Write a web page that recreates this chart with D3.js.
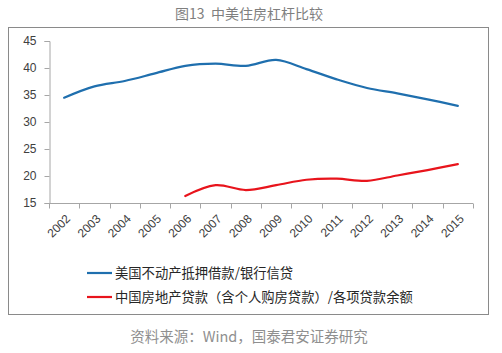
<!DOCTYPE html>
<html lang="zh">
<head>
<meta charset="UTF-8">
<title>图13 中美住房杠杆比较</title>
<script src="https://cdnjs.cloudflare.com/ajax/libs/d3/7.8.5/d3.min.js"></script>
<style>
    body { margin: 0; padding: 0; background: #ffffff; }
    svg { display: block; }
    text { font-family: "Liberation Sans", "Noto Sans CJK SC", sans-serif; }
    .cjk { font-family: "Noto Sans CJK SC", sans-serif; white-space: pre; }
</style>
</head>
<body>
<div id="chart"></div>
<script>
    // data
    const years = ["2002", "2003", "2004", "2005", "2006", "2007", "2008", "2009", "2010", "2011", "2012", "2013", "2014", "2015"];
    const usRatio = [34.5, 36.6, 37.6, 39.0, 40.4, 40.8, 40.4, 41.5, 39.8, 37.9, 36.3, 35.3, 34.2, 33.0];
    const cnRatio = [null, null, null, null, 16.3, 18.3, 17.4, 18.3, 19.3, 19.5, 19.1, 20.1, 21.1, 22.2];
    const yTicks = [15, 20, 25, 30, 35, 40, 45];
    const seriesNames = ["美国不动产抵押借款/银行信贷", "中国房地产贷款（含个人购房贷款）/各项贷款余额"];
    const seriesColors = ["#1f6fae", "#e8141c"];

    const width = 502, height = 353;
    const plot = {left: 49, right: 473, top: 41, bottom: 203};

    const svg = d3.select("#chart").append("svg")
        .attr("width", width)
        .attr("height", height);

    // title
    svg.append("text")
        .attr("class", "cjk")
        .attr("x", 249).attr("y", 19)
        .attr("text-anchor", "middle")
        .attr("font-size", 14)
        .attr("fill", "#7f7f7f")
        .text("图13  中美住房杠杆比较");

    // outer frame
    svg.append("rect")
        .attr("x", 8.5).attr("y", 27.5)
        .attr("width", 480).attr("height", 287)
        .attr("fill", "#fff")
        .attr("stroke", "#8a8a8a")
        .attr("stroke-width", 1);

    const x = d3.scaleBand().domain(years).range([plot.left, plot.right]);
    const y = d3.scaleLinear().domain([15, 45]).range([plot.bottom, plot.top]);

    // y axis
    const yAxis = svg.append("g")
        .attr("transform", `translate(${plot.left + 0.5},0)`)
        .call(d3.axisLeft(y).tickValues(yTicks).tickSize(5).tickPadding(8));
    yAxis.selectAll("path, line").attr("stroke", "#a6a6a6");
    yAxis.selectAll("text").attr("font-size", 12).attr("fill", "#404040");

    // x axis with ticks on category boundaries
    const xAxis = svg.append("g")
        .attr("transform", `translate(0,${plot.bottom + 0.5})`);
    xAxis.append("line")
        .attr("x1", plot.left).attr("x2", plot.right)
        .attr("stroke", "#a6a6a6");
    const bounds = years.map(d => x(d)).concat([x.range()[1]]);
    xAxis.selectAll("line.tick")
        .data(bounds)
        .join("line")
        .attr("class", "tick")
        .attr("x1", d => Math.round(d) + 0.5).attr("x2", d => Math.round(d) + 0.5)
        .attr("y1", 0).attr("y2", 5)
        .attr("stroke", "#a6a6a6");
    xAxis.selectAll("text")
        .data(years)
        .join("text")
        .attr("transform", d => `translate(${x(d) + x.bandwidth() / 2 + 1},${10}) rotate(-45)`)
        .attr("text-anchor", "end")
        .attr("dy", "0.7em")
        .attr("font-size", 12)
        .attr("fill", "#404040")
        .text(d => d);

    // lines
    const line = d3.line()
        .defined(d => d.v != null)
        .x(d => x(d.year) + x.bandwidth() / 2)
        .y(d => y(d.v))
        .curve(d3.curveCatmullRom.alpha(0.5));

    [usRatio, cnRatio].forEach((vals, i) => {
        const pts = years.map((yr, j) => ({year: yr, v: vals[j]})).filter(d => d.v != null);
        svg.append("path")
            .datum(pts)
            .attr("d", line)
            .attr("fill", "none")
            .attr("stroke", seriesColors[i])
            .attr("stroke-width", 2.2)
            .attr("stroke-linecap", "round");
    });

    // legend
    const legend = svg.append("g");
    seriesNames.forEach((name, i) => {
        const ly = 273 + i * 24;
        legend.append("line")
            .attr("x1", 87).attr("x2", 112)
            .attr("y1", ly).attr("y2", ly)
            .attr("stroke", seriesColors[i])
            .attr("stroke-width", 2.2);
        legend.append("text")
            .attr("class", "cjk")
            .attr("x", 115).attr("y", ly)
            .attr("dy", "0.35em")
            .attr("font-size", 13.3)
            .attr("fill", "#262626")
            .text(name);
    });

    // source note
    svg.append("text")
        .attr("class", "cjk")
        .attr("x", 249).attr("y", 342)
        .attr("text-anchor", "middle")
        .attr("font-size", 14.5)
        .attr("fill", "#8f8f8f")
        .text("资料来源：Wind，国泰君安证券研究");
</script>
</body>
</html>
